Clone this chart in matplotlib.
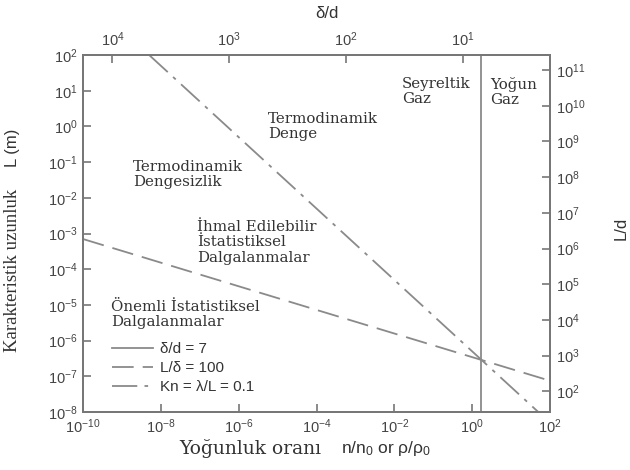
import numpy as np
import matplotlib
matplotlib.use("Agg")
import matplotlib.pyplot as plt

plt.rcParams['font.family'] = ['Liberation Sans', 'DejaVu Sans']
plt.rcParams['mathtext.fontset'] = 'custom'
plt.rcParams['mathtext.rm'] = 'Liberation Sans'
plt.rcParams['mathtext.it'] = 'Liberation Sans'

# density ratio range and tick positions
x_ticks = [1e-10, 1e-8, 1e-6, 1e-4, 1e-2, 1e0, 1e2]
y_ticks = [1e-8, 1e-7, 1e-6, 1e-5, 1e-4, 1e-3, 1e-2, 1e-1, 1e0, 1e1, 1e2]
top_ticks = [1e4, 1e3, 1e2, 1e1]
right_ticks = [1e2, 1e3, 1e4, 1e5, 1e6, 1e7, 1e8, 1e9, 1e10, 1e11]

# delta/d = delta_coef * n^(-1/3), molecular diameter d in m
delta_coef = 8.29
d_mol = 3.8e-10

# boundary lines (density ratio, length in m)
n_sep = 1.66                      # delta/d = 7
n_ld = [1e-10, 1e2]               # L/delta = 100
L_ld = [7.0e-4, 7.5e-8]
n_kn = [5e-9, 5e1]                # Kn = 0.1
L_kn = [1e2, 1e-8]

line_col = '#8a8a8a'
text_col = '#333333'
serif = ['Liberation Serif', 'DejaVu Serif']
wide_serif = ['DejaVu Serif']

fig = plt.figure(figsize=(6.3, 4.7), dpi=100)
ax = fig.add_axes([83/630, 1 - 412/470, (550 - 83)/630, (412 - 55)/470])

ax.axvline(n_sep, color=line_col, lw=1.3, label='δ/d = 7')
ax.plot(n_ld, L_ld, color=line_col, lw=1.3, dashes=(12, 5), label='L/δ = 100')
ax.plot(n_kn, L_kn, color=line_col, lw=1.3, dashes=(14, 4, 2, 4),
        label='Kn = λ/L = 0.1')

ax.set_xscale('log')
ax.set_yscale('log')
ax.set_xlim(1e-10, 1e2)
ax.set_ylim(1e-8, 1e2)
ax.set_xticks(x_ticks)
ax.set_yticks(y_ticks)
ax.minorticks_off()

tick_kw = dict(direction='in', length=6, width=1.2, color='#777777',
               labelsize=10.5, labelcolor='#444444', pad=4)
for s in ax.spines.values():
    s.set_color('#777777')
    s.set_linewidth(1.3)
ax.tick_params(**tick_kw)

# top axis: delta/d
axt = ax.twiny()
axt.set_xscale('log')
axt.set_xlim(delta_coef * 1e-10 ** (-1/3), delta_coef * 1e2 ** (-1/3))
axt.set_xticks(top_ticks)
axt.minorticks_off()
axt.tick_params(**tick_kw)

# right axis: L/d
axr = ax.twinx()
axr.set_yscale('log')
axr.set_ylim(1e-8 / d_mol, 1e2 / d_mol)
axr.set_yticks(right_ticks)
axr.minorticks_off()
axr.tick_params(**tick_kw)
for a in (axt, axr):
    for s in a.spines.values():
        s.set_color('#777777')
        s.set_linewidth(1.3)

# region labels
regions = [
    (10**-5.24, 10**0.40, 'Termodinamik\nDenge'),
    (10**-8.71, 10**-0.94, 'Termodinamik\nDengesizlik'),
    (10**-7.07, 10**-2.62, 'İhmal Edilebilir\nİstatistiksel\nDalgalanmalar'),
    (10**-9.28, 10**-4.86, 'Önemli İstatistiksel\nDalgalanmalar'),
    (10**-1.8, 10**1.38, 'Seyreltik\nGaz'),
    (10**0.46, 10**1.38, 'Yoğun\nGaz'),
]
for xr, yr, txt in regions:
    ax.text(xr, yr, txt, family=wide_serif, fontsize=10.8, color=text_col,
            va='top', linespacing=1.12)

leg = ax.legend(loc='upper left', bbox_to_anchor=(0.062, 0.195), frameon=False,
                fontsize=11, handlelength=2.7, handletextpad=0.45,
                labelspacing=0.32, borderaxespad=0, borderpad=0)
for t in leg.get_texts():
    t.set_color(text_col)

# axis titles
fig.text(13/630, 1 - 270/470, 'Karakteristik uzunluk', family=serif, fontsize=13.5,
         rotation=90, ha='center', va='center', color=text_col)
fig.text(13/630, 1 - 148/470, 'L (m)', fontsize=12, rotation=90,
         ha='center', va='center', color=text_col)
fig.text(250/630, 1 - 449/470, 'Yoğunluk oranı', family=wide_serif, fontsize=13.5,
         ha='center', va='center', color=text_col)
fig.text(386/630, 1 - 449/470, 'n/n$_0$ or ρ/ρ$_0$', fontsize=12.5,
         ha='center', va='center', color=text_col)
fig.text(327/630, 1 - 14/470, 'δ/d', fontsize=12,
         ha='center', va='center', color=text_col)
fig.text(621/630, 1 - 228/470, 'L/d', fontsize=12, rotation=90,
         ha='center', va='center', color=text_col)

fig.savefig('out.png', dpi=100)
